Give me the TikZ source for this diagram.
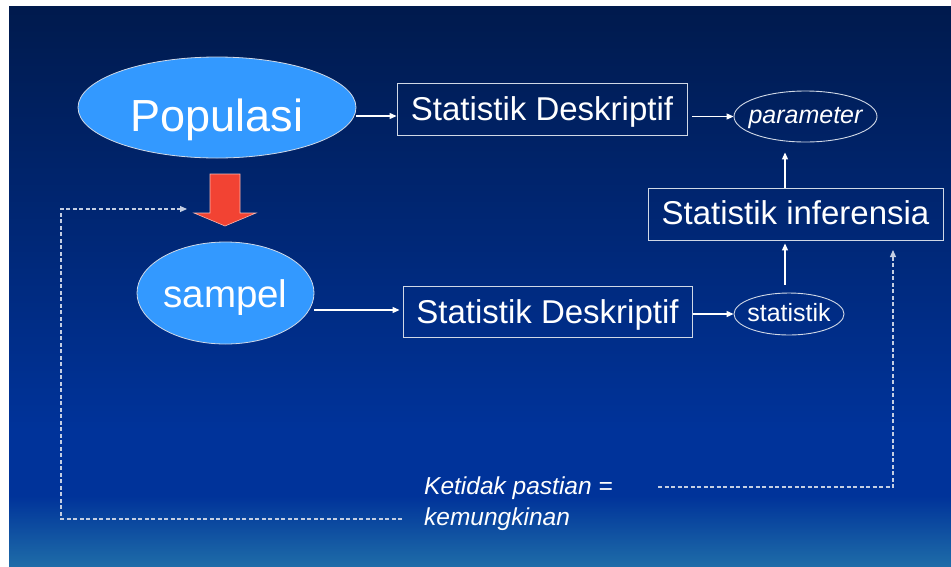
\documentclass[tikz,border=0pt]{standalone}
\usepackage{fontspec}
\setmainfont{Liberation Sans}
\usetikzlibrary{shapes.geometric}
\usetikzlibrary{positioning, arrows.meta}

\definecolor{bgtop}{HTML}{001A4D}
\definecolor{bgmid}{HTML}{00339A}
\definecolor{bgbot}{HTML}{1E6CA8}
\definecolor{blobfill}{HTML}{3399FF}
\definecolor{rimgray}{HTML}{D0D8E6}
\definecolor{dashgray}{HTML}{C4CEE2}
\definecolor{redarrow}{HTML}{F24333}
\definecolor{redrim}{HTML}{F8B8B0}

\tikzset{
    blob/.style={ellipse, fill=blobfill, draw=rimgray, line width=0.8pt, text=white, inner sep=0pt, text depth=0pt},
    oval/.style={ellipse, draw=rimgray, line width=0.9pt, text=white, inner ysep=0pt, inner xsep=-10pt,
        text depth=0pt, font=\fontsize{25}{30}\selectfont},
    statbox/.style={rectangle, draw=rimgray, line width=0.9pt, text=white, inner sep=0pt, text depth=0pt,
        font=\fontsize{33}{40}\selectfont},
    flow/.style={draw=white, line width=1.2pt, -{Triangle[length=7pt,width=6pt]}},
    guess/.style={draw=dashgray, line width=1.1pt, dash pattern=on 4pt off 2.5pt,
        -{Triangle[length=7pt,width=6pt]}},
    note/.style={text=white, inner sep=0pt, align=left, font=\itshape\fontsize{24.5}{31}\selectfont},
}

\begin{document}
\begin{tikzpicture}[x=1pt,y=-1pt]
    \useasboundingbox (0,0) rectangle (951,566);
    % slide background
    \fill[white] (0,0) rectangle (951,566);
    \shade[top color=bgtop, bottom color=bgmid] (9,6) rectangle (951,430);
    \fill[bgmid] (9,429.5) rectangle (951,496.5);
    \shade[top color=bgmid, bottom color=bgbot] (9,496) rectangle (951,566);

    % population and sample
    \node[blob, minimum width=278pt, minimum height=101pt, text height=48pt,
        font=\fontsize{45}{54}\selectfont] (pop) at (217,107.5) {Populasi};
    \node[blob, minimum width=177pt, minimum height=102pt, text height=28pt,
        font=\fontsize{38.5}{46}\selectfont] (sampel) at (225.5,293) {sampel};

    % descriptive boxes
    \node[statbox, minimum width=290pt, minimum height=52pt, text height=22pt] (sdtop) at (542,109) {Statistik Deskriptif};
    \node[statbox, minimum width=289pt, minimum height=51pt, text height=23pt] (sdbot) at (547.5,311.5) {Statistik Deskriptif};
    \node[statbox, minimum width=295pt, minimum height=52pt, text height=21pt] (infer) at (795.5,214) {Statistik inferensia};

    % results
    \node[oval, minimum width=143pt, minimum height=51pt, text height=14pt, font=\itshape\fontsize{25}{30}\selectfont] (param) at (805.5,116.5) {parameter};
    \node[oval, minimum width=110pt, minimum height=42pt, text height=15pt] (stat) at (789,314) {statistik};

    % uncertainty note
    \node[note, anchor=north west] (uncert) at (424,476.5) {Ketidak pastian =\\kemungkinan};
    \coordinate (lstart) at (402,519);
    \coordinate (rstart) at (658,487);
    \coordinate (lend) at (187,209);
    \coordinate (rend) at (893,250);

    % sampling arrow
    \filldraw[fill=redarrow, draw=redrim, line width=0.6pt]
        (210,174) -- (240,174) -- (240,213) -- (256,213) -- (225,226)
        -- (194,213) -- (210,213) -- cycle;

    % connectors
    \draw[flow] ([yshift=-8.5pt]pop.east) -- ([yshift=-8.5pt]pop.east -| sdtop.west);
    \draw[flow] ([xshift=5pt]sdtop.east |- param.west) -- (param.west);
    \draw[flow] (sampel.east |- 0,310) -- ([xshift=-3pt]sdbot.west |- 0,310);
    \draw[flow] ([xshift=1pt]sdbot.east |- stat.west) -- (stat.west);
    \draw[flow] ([shift={(-4,-8)}]stat.north) -- ([shift={(-10.5,3)}]infer.south);
    \draw[flow] ([shift={(-10.5,0)}]infer.north) -- ([shift={(-20.5,10)}]param.south);

    \draw[guess] (lstart) -- (61,519) -- (61,209) -- (lend);
    \draw[guess] (rstart) -- (893,487) -- (rend);
\end{tikzpicture}
\end{document}
